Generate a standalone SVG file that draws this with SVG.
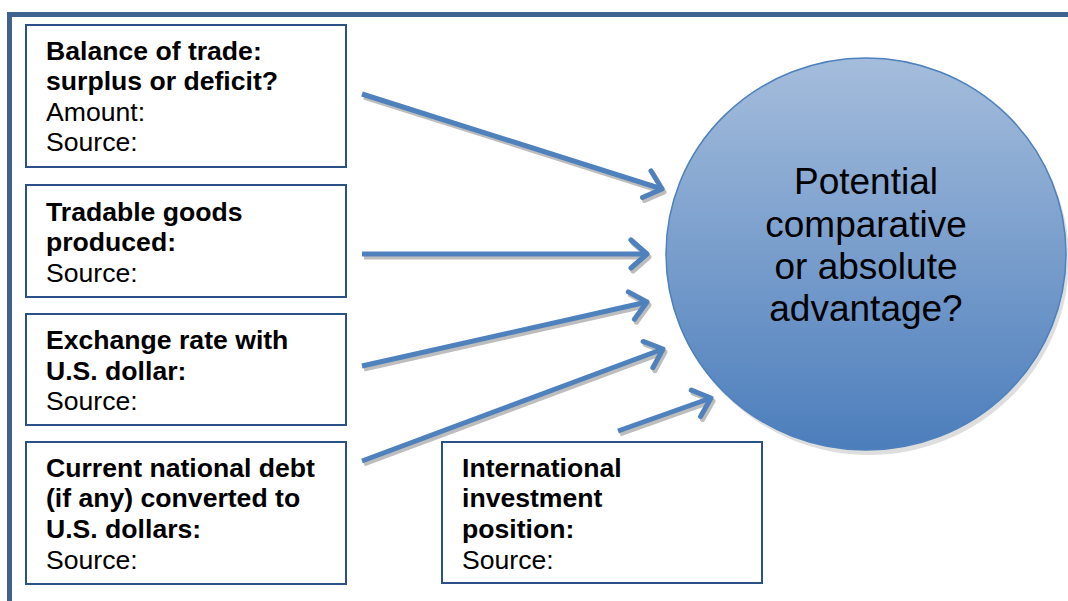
<svg xmlns="http://www.w3.org/2000/svg" width="1068" height="601" viewBox="0 0 1068 601">
<style>
.box{fill:#fff;stroke:#2c5088;stroke-width:2}
.b{font-family:"Liberation Sans",Arial,sans-serif;font-size:26.6px;font-weight:bold;fill:#000}
.r{font-family:"Liberation Sans",Arial,sans-serif;font-size:26.6px;fill:#000}
.c{font-family:"Liberation Sans",Arial,sans-serif;font-size:37px;fill:#000;text-anchor:middle}
.arr{stroke:#4f81bd;stroke-width:5;fill:none;marker-end:url(#ah)}
.sh{stroke:#bdbdbd;stroke-width:5;fill:none;marker-end:url(#ahs)}
</style>
<defs>
<linearGradient id="g" x1="0" y1="0" x2="0" y2="1">
<stop offset="0" stop-color="#a5bddc"/>
<stop offset="1" stop-color="#4c7ebc"/>
</linearGradient>
<marker id="ah" markerUnits="userSpaceOnUse" markerWidth="40" markerHeight="40" refX="28" refY="20" orient="auto" overflow="visible">
<path d="M12 6 L28 20 L12 34" fill="none" stroke="#4f81bd" stroke-width="5" stroke-linecap="round" stroke-linejoin="round"/>
</marker>
<marker id="ahs" markerUnits="userSpaceOnUse" markerWidth="40" markerHeight="40" refX="28" refY="20" orient="auto" overflow="visible">
<path d="M12 6 L28 20 L12 34" fill="none" stroke="#bdbdbd" stroke-width="5" stroke-linecap="round" stroke-linejoin="round"/>
</marker>
</defs>
<rect width="1068" height="601" fill="#fff"/>
<path d="M9.5 601 V14.5 H1068" fill="none" stroke="#3f6190" stroke-width="5"/>

<g id="circle">
<ellipse cx="869" cy="259" rx="200" ry="196" fill="#c8c8c8" opacity="0.6"/>
<ellipse cx="866" cy="254" rx="200" ry="196" fill="url(#g)" stroke="#4f81bd" stroke-width="1.5"/>
<text class="c" x="866" y="194">Potential</text>
<text class="c" x="866" y="237">comparative</text>
<text class="c" x="866" y="279">or absolute</text>
<text class="c" x="866" y="321">advantage?</text>
</g>

<g id="connectors">
<g transform="translate(2,3)">
<line class="sh" x1="362" y1="94" x2="662" y2="189"/>
<line class="sh" x1="362" y1="254" x2="647" y2="254"/>
<line class="sh" x1="362" y1="366" x2="647" y2="302"/>
<line class="sh" x1="362" y1="461" x2="663" y2="349"/>
<line class="sh" x1="618" y1="431" x2="711" y2="398"/>
</g>
<line class="arr" x1="362" y1="94" x2="662" y2="189"/>
<line class="arr" x1="362" y1="254" x2="647" y2="254"/>
<line class="arr" x1="362" y1="366" x2="647" y2="302"/>
<line class="arr" x1="362" y1="461" x2="663" y2="349"/>
<line class="arr" x1="618" y1="431" x2="711" y2="398"/>
</g>

<g id="n1">
<rect class="box" x="26" y="25" width="320" height="142"/>
<text class="b" x="46" y="60">Balance of trade:</text>
<text class="b" x="46" y="90">surplus or deficit?</text>
<text class="r" x="46" y="121">Amount:</text>
<text class="r" x="46" y="151">Source:</text>
</g>
<g id="n2">
<rect class="box" x="26" y="185" width="320" height="112"/>
<text class="b" x="46" y="221">Tradable goods</text>
<text class="b" x="46" y="251">produced:</text>
<text class="r" x="46" y="282">Source:</text>
</g>
<g id="n3">
<rect class="box" x="26" y="314" width="320" height="111"/>
<text class="b" x="46" y="349">Exchange rate with</text>
<text class="b" x="46" y="380">U.S. dollar:</text>
<text class="r" x="46" y="410">Source:</text>
</g>
<g id="n4">
<rect class="box" x="26" y="442" width="320" height="142"/>
<text class="b" x="46" y="477">Current national debt</text>
<text class="b" x="46" y="507">(if any) converted to</text>
<text class="b" x="46" y="538">U.S. dollars:</text>
<text class="r" x="46" y="569">Source:</text>
</g>
<g id="n5">
<rect class="box" x="442" y="442" width="320" height="141"/>
<text class="b" x="462" y="477">International</text>
<text class="b" x="462" y="507">investment</text>
<text class="b" x="462" y="538">position:</text>
<text class="r" x="462" y="569">Source:</text>
</g>
</svg>
